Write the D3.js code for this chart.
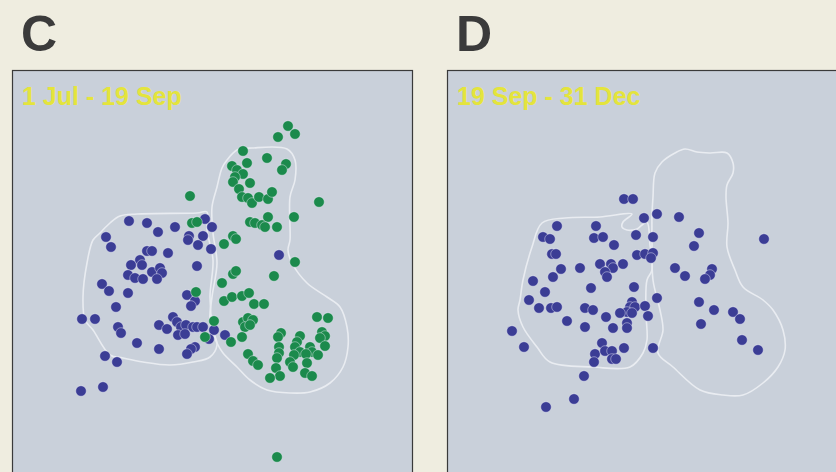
<!DOCTYPE html>
<html>
<head>
<meta charset="utf-8">
<script src="https://cdn.jsdelivr.net/npm/d3@7"></script>
<style>
  html, body { margin: 0; padding: 0; background: #efede0; }
  svg { display: block; }
</style>
</head>
<body>
<svg id="chart" width="836" height="472"></svg>
<script>
// positions, in map units (0..400 across each panel)
const blueC = [
  [117,151],[135,153],[146,162],[163,157],[193,149],[200,157],[94,167],[177,166],[191,166],[99,177],
  [176,170],[186,175],[199,179],[135,181],[140,181],[156,183],[128,190],[119,195],[130,195],[116,205],
  [123,208],[131,209],[140,202],[148,198],[150,203],[145,209],[185,196],[90,214],[97,221],[116,223],
  [175,225],[183,231],[179,236],[104,237],[70,249],[83,249],[106,257],[109,263],[161,247],[165,252],
  [169,257],[174,255],[181,257],[185,257],[191,257],[166,265],[173,264],[147,255],[155,259],[202,260],
  [197,269],[213,265],[125,273],[147,279],[183,277],[179,279],[175,284],[93,286],[105,292],[69,321],
  [91,317],[267,185]
];
const greenC = [
  [178,126],[180,153],[185,152],[276,56],[283,64],[266,67],[231,81],[255,88],[235,93],[274,94],
  [270,100],[220,96],[225,100],[231,104],[223,107],[221,112],[238,113],[227,119],[230,127],[236,128],
  [240,133],[247,127],[256,129],[260,122],[307,132],[282,147],[238,152],[243,153],[250,155],[256,147],
  [253,157],[265,157],[221,166],[224,169],[212,174],[283,192],[221,204],[224,201],[262,206],[210,213],
  [212,231],[220,227],[230,226],[237,223],[242,234],[252,234],[231,252],[236,248],[241,250],[233,257],
  [238,255],[202,251],[193,267],[219,272],[230,267],[305,247],[316,248],[269,263],[266,267],[288,266],
  [285,272],[310,262],[313,266],[308,268],[267,277],[267,283],[265,288],[283,277],[288,282],[282,285],
  [298,277],[300,282],[306,285],[313,276],[294,284],[236,284],[241,291],[246,295],[278,292],[281,297],
  [295,293],[264,298],[268,306],[258,308],[293,303],[300,306],[265,387],[184,222]
];
const blueD = [
  [177,129],[186,129],[197,148],[210,144],[110,156],[149,156],[96,167],[103,169],[147,168],[156,167],
  [167,175],[189,165],[206,167],[105,184],[109,184],[190,185],[198,184],[206,183],[204,188],[153,194],
  [164,194],[166,198],[158,202],[160,207],[176,194],[133,198],[114,199],[106,207],[86,211],[98,222],
  [144,218],[187,217],[82,230],[92,238],[104,238],[110,237],[138,238],[146,240],[185,232],[183,237],
  [188,237],[180,242],[173,243],[185,243],[198,236],[210,228],[159,247],[201,246],[120,251],[180,253],
  [180,258],[138,257],[166,258],[65,261],[232,147],[252,163],[247,176],[317,169],[228,198],[238,206],
  [265,199],[263,205],[258,209],[252,232],[267,240],[286,242],[293,249],[254,254],[295,270],[206,278],
  [311,280],[77,277],[155,273],[148,284],[147,292],[158,281],[165,281],[165,289],[169,289],[177,278],
  [137,306],[127,329],[99,337]
];
// range outlines
const rangeLeftC = [
  [88,163],[98,153],[108,146],[125,144],[185,143],[195,142],[195,160],[201,190],[198,227],[201,260],
  [205,275],[198,287],[181,292],[158,295],[131,292],[111,288],[98,285],[81,260],[73,250],[71,227],
  [75,193],[81,170]
];
const rangeRightC = [
  [225,80],[215,90],[210,98],[205,117],[200,137],[201,163],[205,193],[200,227],[198,253],[205,273],
  [211,283],[225,297],[238,310],[255,320],[278,323],[298,322],[318,313],[331,297],[336,277],[335,257],
  [328,237],[315,227],[295,213],[280,193],[276,180],[278,170],[278,127],[283,110],[283,90],[275,79],
  [240,78]
];
const rangeLeftD = [
  [95,153],[118,148],[153,147],[185,144],[176,152],[175,157],[180,160],[190,159],[195,155],[200,152],
  [203,175],[205,200],[200,210],[199,243],[200,270],[196,283],[183,297],[146,297],[103,292],[90,277],
  [76,257],[71,240],[73,230],[76,210],[85,177]
];
const rangeRightD = [
  [206,127],[208,103],[215,92],[228,83],[238,79],[250,82],[263,83],[280,83],[286,93],[286,103],
  [280,115],[279,127],[281,153],[280,177],[288,200],[296,217],[316,230],[326,240],[336,260],[338,280],
  [331,297],[316,313],[296,325],[276,325],[253,320],[226,297],[211,283],[216,260],[213,240],[206,210],
  [205,170],[205,145]
];

const panels = [
  { letter: 'C', title: '1 Jul - 19 Sep', left: 12, ranges: [rangeLeftC, rangeRightC],
    series: [{ pts: blueC, color: '#3b3d95' }, { pts: greenC, color: '#1b8a4c' }] },
  { letter: 'D', title: '19 Sep - 31 Dec', left: 447, ranges: [rangeLeftD, rangeRightD],
    series: [{ pts: blueD, color: '#3b3d95' }] }
];

const svg = d3.select('#chart');
const panelTop = 70, size = 400;

panels.forEach(p => {
  const x = d3.scaleLinear().domain([0, 400]).range([p.left, p.left + size]);
  const y = d3.scaleLinear().domain([0, 400]).range([panelTop, panelTop + size]);

  svg.append('text')
    .attr('x', p.left + 9)
    .attr('y', 51)
    .attr('font-family', 'Liberation Sans, Arial, sans-serif')
    .attr('font-weight', 'bold')
    .attr('font-size', 50)
    .attr('fill', '#3b3b3b')
    .text(p.letter);

  const g = svg.append('g');
  g.append('rect')
    .attr('x', p.left + 0.5)
    .attr('y', panelTop + 0.5)
    .attr('width', size)
    .attr('height', size + 20)
    .attr('fill', '#c9d0da')
    .attr('stroke', '#3a3a3a')
    .attr('stroke-width', 1.2);

  g.append('text')
    .attr('x', p.left + 10)
    .attr('y', panelTop + 35)
    .attr('font-family', 'Liberation Sans, Arial, sans-serif')
    .attr('font-weight', 'bold')
    .attr('font-size', 25)
    .attr('fill', '#e4e43c')
    .text(p.title);

  const line = d3.line()
    .x(d => x(d[0]))
    .y(d => y(d[1]))
    .curve(d3.curveCatmullRomClosed.alpha(0.5));

  g.selectAll('path.range')
    .data(p.ranges)
    .enter()
    .append('path')
    .attr('class', 'range')
    .attr('d', line)
    .attr('fill', 'none')
    .attr('stroke', '#e9ecf1')
    .attr('stroke-width', 1.6);

  p.series.forEach(s => {
    g.append('g')
      .selectAll('circle')
      .data(s.pts)
      .enter()
      .append('circle')
      .attr('cx', d => x(d[0]))
      .attr('cy', d => y(d[1]))
      .attr('r', 5.3)
      .attr('fill', s.color)
      .attr('stroke', 'rgba(240,240,250,0.55)')
      .attr('stroke-width', 0.8);
  });
});
</script>
</body>
</html>
